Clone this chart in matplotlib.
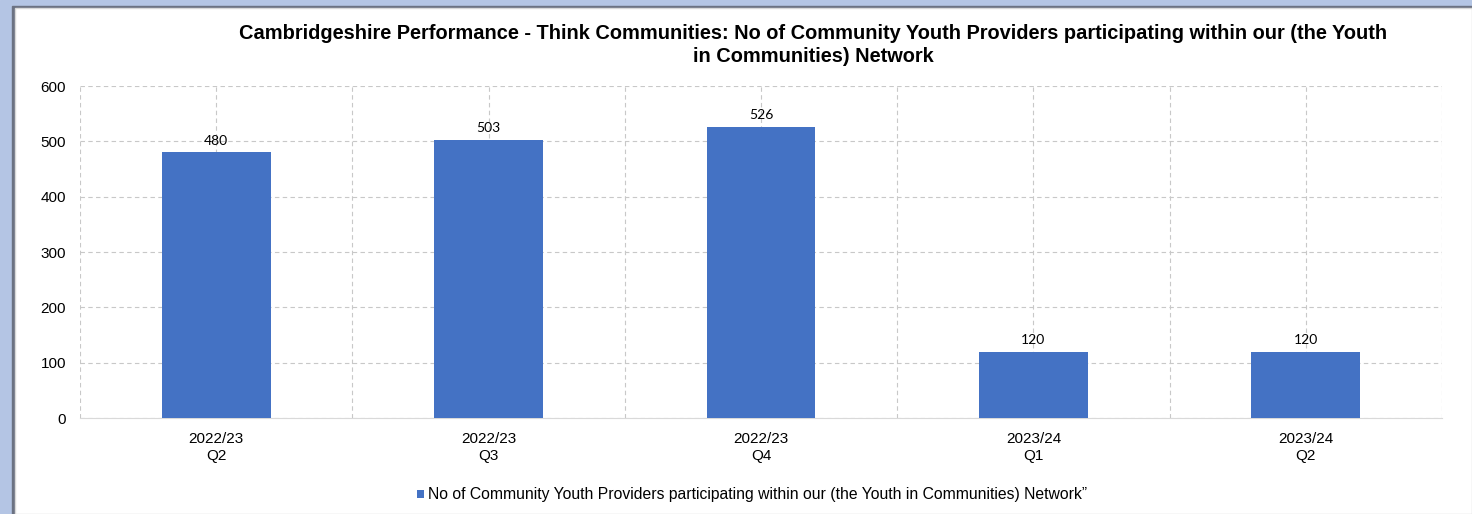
import matplotlib.pyplot as plt
from matplotlib.patches import Rectangle

quarters = ["2022/23\nQ2", "2022/23\nQ3", "2022/23\nQ4", "2023/24\nQ1", "2023/24\nQ2"]
providers = [480, 503, 526, 120, 120]
y_ticks = [0, 100, 200, 300, 400, 500, 600]

TITLE = ("Cambridgeshire Performance - Think Communities: No of Community Youth Providers participating within our (the Youth\n"
         "in Communities) Network")
SERIES_LABEL = "No of Community Youth Providers participating within our (the Youth in Communities) Network\u201d"

BAR_COLOR = "#4472c4"
W, H = 1472, 514

plt.rcParams["font.family"] = ["Liberation Sans", "DejaVu Sans"]

fig = plt.figure(figsize=(W / 100, H / 100), dpi=100)

# outer frame: blue strip, dark edge, white panel
fig.patches.append(Rectangle((0, 0), 1, 1, transform=fig.transFigure, color="#b4c5e4", zorder=-3))
fig.patches.append(Rectangle((12 / W, 0), (W - 12) / W, (H - 6) / H, transform=fig.transFigure,
                             color="#6b7282", zorder=-2))
fig.patches.append(Rectangle((15 / W, 0), (W - 15) / W, (H - 8) / H, transform=fig.transFigure,
                             facecolor="white", edgecolor="#d8d8d8", linewidth=1.0, zorder=-1))

ax = fig.add_axes([80 / W, 1 - 418 / H, (1442 - 80) / W, (418 - 86) / H])
x = list(range(len(quarters)))
bars = ax.bar(x, providers, width=0.4, color=BAR_COLOR, zorder=3)
for b, v in zip(bars, providers):
    ax.text(b.get_x() + b.get_width() / 2, v + 10, str(v), ha="center", va="bottom",
            fontsize=10, family=["Lato", "DejaVu Sans"], zorder=4)

ax.set_xlim(-0.5, len(quarters) - 0.5)
ax.set_ylim(0, 600)
ax.set_yticks(y_ticks)
ax.set_xticks(x)
ax.set_xticklabels(quarters, fontsize=11, linespacing=1.25)
ax.tick_params(axis="y", labelsize=11, length=0, pad=10)
ax.tick_params(axis="x", length=0, pad=10)

# gridlines at bar centres and category boundaries
ax.set_xticks([i - 0.5 for i in range(len(quarters) + 1)], minor=True)
ax.grid(True, which="both", axis="x", color="#c8c8c8", linestyle=(0, (4, 3)), linewidth=0.8, zorder=0)
ax.grid(True, which="major", axis="y", color="#c8c8c8", linestyle=(0, (4, 3)), linewidth=0.8, zorder=0)
ax.tick_params(axis="x", which="minor", length=0)
for s in ["top", "right", "left"]:
    ax.spines[s].set_visible(False)
ax.spines["bottom"].set_color("#d9d9d9")

fig.text(813 / W, 1 - 45 / H, TITLE, ha="center", va="center", fontsize=14.4, fontweight="bold",
         linespacing=1.3)

leg = fig.legend([bars], [SERIES_LABEL], loc="center", bbox_to_anchor=(752 / W, 1 - 495 / H),
                 frameon=False, fontsize=11.3, handlelength=0.45, handleheight=0.45, handletextpad=0.3)

fig.savefig("out.png", dpi=100)
